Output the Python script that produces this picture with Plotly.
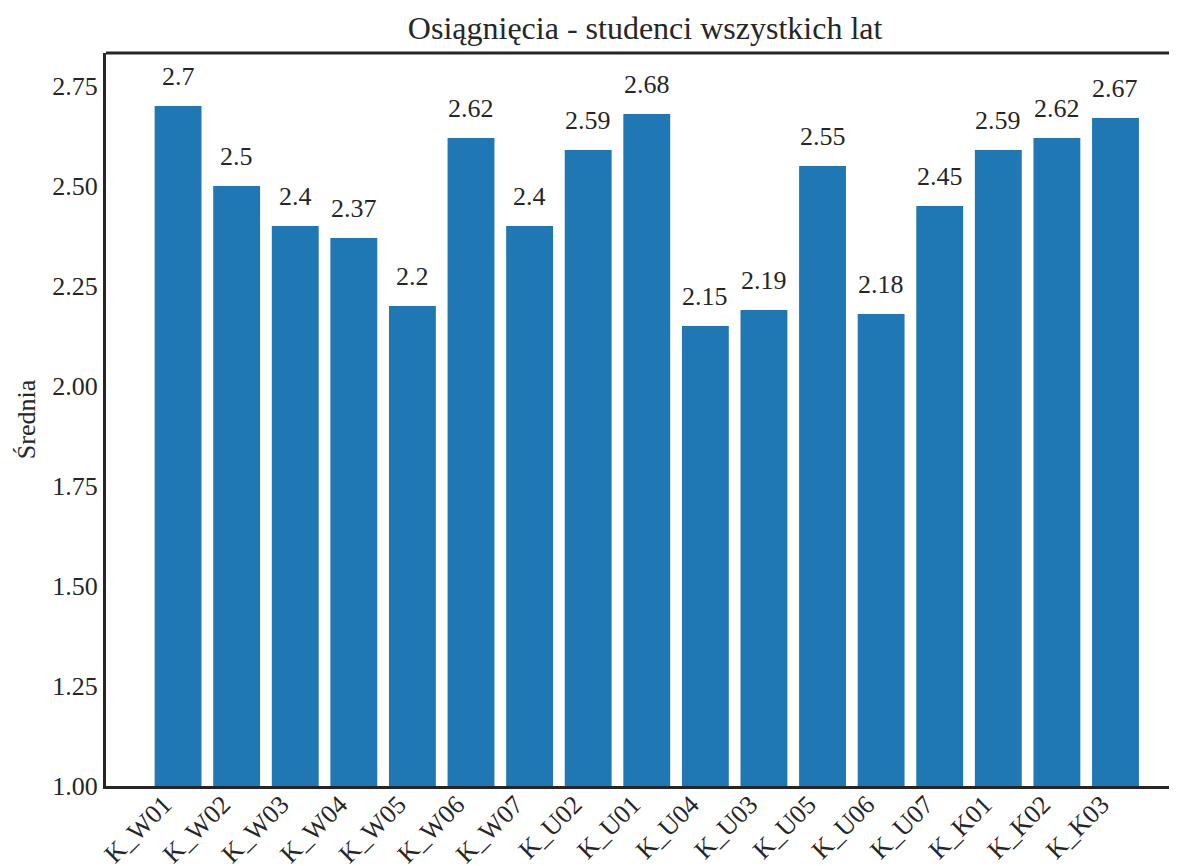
import plotly.graph_objects as go

categories = ["K_W01", "K_W02", "K_W03", "K_W04", "K_W05", "K_W06", "K_W07",
              "K_U02", "K_U01", "K_U04", "K_U03", "K_U05", "K_U06", "K_U07",
              "K_K01", "K_K02", "K_K03"]
values = [2.7, 2.5, 2.4, 2.37, 2.2, 2.62, 2.4, 2.59, 2.68, 2.15, 2.19,
          2.55, 2.18, 2.45, 2.59, 2.62, 2.67]
labels = ["2.7", "2.5", "2.4", "2.37", "2.2", "2.62", "2.4", "2.59", "2.68",
          "2.15", "2.19", "2.55", "2.18", "2.45", "2.59", "2.62", "2.67"]

font = "Liberation Serif"
ink = "#262626"

fig = go.Figure(go.Bar(
    x=categories,
    y=values,
    marker_color="#1f77b4",
    marker_line_width=0,
    width=0.8,
))

for c, v, t in zip(categories, values, labels):
    fig.add_annotation(x=c, y=v, text=t, showarrow=False,
                       yanchor="bottom", yshift=13,
                       font=dict(family=font, size=26, color=ink))

# top spine (the right one falls outside the picture)
fig.add_shape(type="line", xref="paper", yref="paper", x0=0, x1=1, y0=1, y1=1,
              line=dict(color=ink, width=3))

fig.update_layout(
    width=1169, height=858,
    margin=dict(l=98, r=0, t=45, b=80),
    paper_bgcolor="white", plot_bgcolor="white",
    showlegend=False,
    title=dict(text="Osiągnięcia - studenci wszystkich lat", x=0.545, xanchor="center",
               y=0.977, yanchor="middle",
               font=dict(family=font, size=32, color=ink)),
    font=dict(family=font, size=26, color=ink),
)
fig.update_xaxes(range=[-1.23, 17.05], showgrid=False, showline=True,
                 linecolor=ink, linewidth=3, tickangle=-45, ticks="",
                 automargin=False, ticklabelshift=-14, ticklabelstandoff=-10,
                 tickfont=dict(family=font, size=26, color=ink))
fig.update_yaxes(range=[1.0, 2.8325], showgrid=False, showline=True,
                 linecolor=ink, linewidth=3, ticks="", automargin=False,
                 tickvals=[1.0, 1.25, 1.5, 1.75, 2.0, 2.25, 2.5, 2.75],
                 ticktext=["1.00", "1.25", "1.50", "1.75", "2.00", "2.25", "2.50", "2.75"],
                 title=dict(text="Średnia", standoff=10,
                            font=dict(family=font, size=26, color=ink)),
                 tickfont=dict(family=font, size=26, color=ink))

fig.write_html("out.html")
